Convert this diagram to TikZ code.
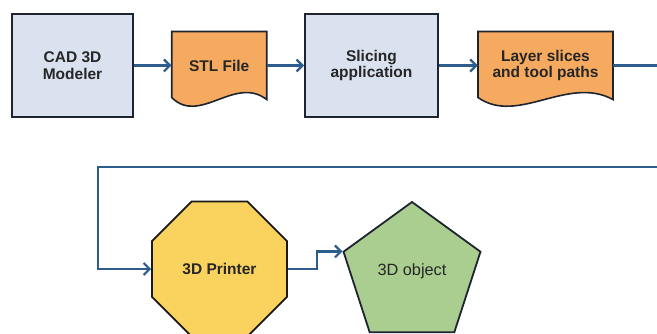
\documentclass[tikz,border=0pt]{standalone}
\usepackage{fontspec}
\setmainfont{Liberation Sans}
\usetikzlibrary{shapes.geometric,arrows.meta,calc}

\definecolor{boxfill}{RGB}{219,226,239}
\definecolor{docfill}{RGB}{245,170,96}
\definecolor{octfill}{RGB}{250,210,94}
\definecolor{pentfill}{RGB}{169,206,143}
\definecolor{edge}{RGB}{30,36,48}
\definecolor{flowblue}{RGB}{44,93,140}

% document symbol: flat top, wavy bottom; #1 = centre x, #2 = width
\newcommand\docshape[2]{%
  \filldraw[docline]
    ({#1-#2/2},31.5) -- ({#1+#2/2},31.5) -- ({#1+#2/2},99.5)
    .. controls ({#1-#2/2+0.663*#2},75) and ({#1-#2/2+0.295*#2},125.5)
    .. ({#1-#2/2},97.5) -- cycle;}

\begin{document}
\begin{tikzpicture}[x=1pt,y=-1pt,
  every node/.style={font=\fontsize{15.5}{16.5}\selectfont\bfseries, align=center, text=black!85},
  procbox/.style={draw=edge, line width=1.8pt, fill=boxfill, minimum height=103pt},
  docline/.style={draw=edge, line width=1.6pt, fill=docfill, line join=miter},
  docnode/.style={minimum height=68pt, inner sep=0pt},
  octa/.style={regular polygon, regular polygon sides=8, minimum size=146pt,
    draw=black!90, line width=1.8pt, fill=octfill, inner sep=0pt},
  penta/.style={regular polygon, regular polygon sides=5, minimum size=144pt,
    draw=edge, line width=1.8pt, fill=pentfill, inner sep=0pt},
  flow/.style={draw=flowblue, line width=2.2pt,
    -{Straight Barb[length=6pt,width=12pt]}}
]
\useasboundingbox (0,0) rectangle (657,334);
\fill[white] (0,0) rectangle (657,334);

% top row
\node[procbox, minimum width=121pt] (cad) at (72.5,65.5) {CAD 3D\\Modeler};
\docshape{219.2}{95}
\node[docnode, minimum width=95pt] (stl) at (219.2,65.5) {\raisebox{-3pt}{STL File}};
\node[procbox, minimum width=133pt] (slice) at (371.5,65.5) {Slicing\\application};
\docshape{545.5}{135}
\node[docnode, minimum width=135pt] (layer) at (545.5,65.5) {Layer slices\\and tool paths};

% bottom row
\node[octa] (printer) at (219.5,269) {3D Printer};
\node[penta, font=\fontsize{16.3}{17}\selectfont] (object) at (412,274) {\raisebox{8pt}{3D object}};

% connectors
\draw[flow] (cad) -- (stl);
\draw[flow] (stl) -- (slice);
\draw[flow] (slice) -- (layer);

\coordinate (rightturn) at (672,167);
\coordinate (leftturn) at (98,167);
\draw[flow] (layer.east) -| (rightturn) -- (leftturn) |- (printer.west);
\draw[flow] (printer.east) -- ++(29,0) |- (object.corner 2);
\end{tikzpicture}
\end{document}
